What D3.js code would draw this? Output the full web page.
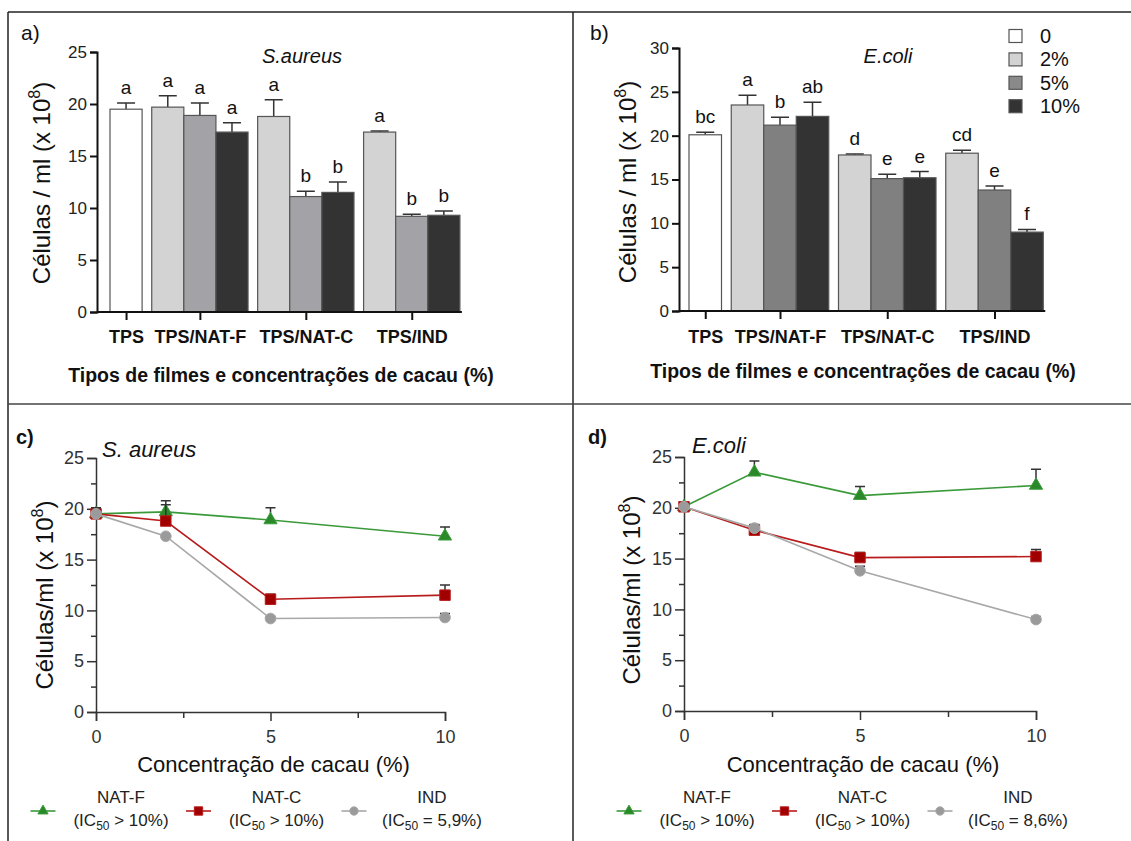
<!DOCTYPE html>
<html>
<head>
<meta charset="utf-8">
<script src="https://cdn.jsdelivr.net/npm/d3@7"></script>
<style>
  body { margin: 0; background: #fff; }
  text { font-family: "Liberation Sans", Arial, sans-serif; }
</style>
</head>
<body>
<script>
// bar order: TPS, then 2/5/10% for NAT-F, NAT-C, IND
var groupLabels = ["TPS", "TPS/NAT-F", "TPS/NAT-C", "TPS/IND"];
var barGroup = [0, 1, 1, 1, 2, 2, 2, 3, 3, 3];
var barConc = [0, 1, 2, 3, 1, 2, 3, 1, 2, 3];
var concLabels = ["0", "2%", "5%", "10%"];
var concValues = [0, 2, 5, 10];

var aureusMeans = [19.5, 19.7, 18.9, 17.3, 18.8, 11.1, 11.5, 17.3, 9.2, 9.3];
var aureusErrs = [0.6, 1.1, 1.2, 0.9, 1.6, 0.5, 1.0, 0.1, 0.2, 0.4];
var aureusLetters = ["a", "a", "a", "a", "a", "b", "b", "a", "b", "b"];

var ecoliMeans = [20.1, 23.5, 21.2, 22.2, 17.8, 15.1, 15.2, 18.0, 13.8, 9.0];
var ecoliErrs = [0.3, 1.1, 0.9, 1.6, 0.1, 0.5, 0.7, 0.35, 0.45, 0.3];
var ecoliLetters = ["bc", "a", "b", "ab", "d", "e", "e", "cd", "e", "f"];

var lineNames = ["NAT-F", "NAT-C", "IND"];
var aureusIC = ["> 10%)", "> 10%)", "= 5,9%)"];
var ecoliIC = ["> 10%)", "> 10%)", "= 8,6%)"];

var svg = d3.select("body").append("svg")
    .attr("width", 1131)
    .attr("height", 841);

// panel frame
var frame = svg.append("g").attr("stroke", "#222").attr("stroke-width", 1.5);
frame.append("line").attr("x1", 8).attr("y1", 12).attr("x2", 1131).attr("y2", 12);
frame.append("line").attr("x1", 8).attr("y1", 12).attr("x2", 8).attr("y2", 841);
frame.append("line").attr("x1", 573).attr("y1", 12).attr("x2", 573).attr("y2", 841);
frame.append("line").attr("x1", 8).attr("y1", 404).attr("x2", 1131).attr("y2", 404).attr("stroke", "#444");

function yLabel(g, x, y, text) {
    var t = g.append("text")
        .attr("transform", "translate(" + x + "," + y + ") rotate(-90)")
        .attr("text-anchor", "middle")
        .attr("font-size", 24)
        .attr("fill", "#111");
    t.append("tspan").text(text);
    t.append("tspan").attr("font-size", 16).attr("dy", -10).text("8");
    t.append("tspan").attr("dy", 10).text(")");
}

function barPanel(o) {
    var g = svg.append("g");
    var y = d3.scaleLinear().domain([0, o.yMax]).range([o.y0, o.y1]);
    var x = d3.scaleLinear().domain([0, 1]).range([o.barX0, o.barX0 + o.barW]);
    var gap = 0.3;
    var slotLeft = function (i) { return x(i + barGroup[i] * gap); };
    var bw = x(1) - x(0);

    var bars = d3.range(barGroup.length).map(function (i) {
        return { i: i, mean: o.means[i], err: o.errs[i], letter: o.letters[i], c: barConc[i] };
    });

    // error bars (up only)
    g.selectAll(".err").data(bars).enter().append("path")
        .attr("d", function (d) {
            var cx = slotLeft(d.i) + bw / 2;
            return "M" + cx + "," + y(d.mean) + "V" + y(d.mean + d.err) +
                "M" + (cx - 9) + "," + y(d.mean + d.err) + "H" + (cx + 9);
        })
        .attr("stroke", "#333").attr("stroke-width", 1.5).attr("fill", "none");

    g.selectAll(".bar").data(bars).enter().append("rect")
        .attr("x", function (d) { return slotLeft(d.i); })
        .attr("y", function (d) { return y(d.mean); })
        .attr("width", bw)
        .attr("height", function (d) { return y(0) - y(d.mean); })
        .attr("fill", function (d) { return o.colors[d.c]; })
        .attr("stroke", "#555").attr("stroke-width", 1.2);

    g.selectAll(".lt").data(bars).enter().append("text")
        .attr("x", function (d) { return slotLeft(d.i) + bw / 2; })
        .attr("y", function (d) { return y(d.mean + d.err) - 9; })
        .attr("text-anchor", "middle")
        .attr("font-size", 19)
        .attr("fill", "#111")
        .text(function (d) { return d.letter; });

    // axes
    var ya = g.append("g")
        .attr("transform", "translate(" + o.axisX + ",0)")
        .call(d3.axisLeft(y).tickValues(d3.range(0, o.yMax + 1, 5)).tickSize(7).tickPadding(3));
    ya.select(".domain").attr("stroke", "#111").attr("stroke-width", 2);
    ya.selectAll(".tick line").attr("stroke", "#111").attr("stroke-width", 2);
    ya.selectAll(".tick text").attr("font-size", 17).attr("fill", "#222").attr("font-family", null);

    var centers = groupLabels.map(function (lab, gi) {
        var idx = d3.range(barGroup.length).filter(function (i) { return barGroup[i] === gi; });
        return (slotLeft(idx[0]) + slotLeft(idx[idx.length - 1]) + bw) / 2;
    });
    var xg = d3.scaleOrdinal().domain(groupLabels).range(centers);
    var xa = g.append("g")
        .attr("transform", "translate(0," + y(0) + ")")
        .call(d3.axisBottom(xg).tickSize(8).tickPadding(o.catPad));
    xa.select(".domain").remove();
    xa.selectAll(".tick line").attr("stroke", "#111").attr("stroke-width", 2);
    xa.selectAll(".tick text").attr("font-size", 18).attr("font-weight", "bold")
        .attr("fill", "#111").attr("font-family", null);
    g.append("line")
        .attr("x1", o.axisX).attr("x2", slotLeft(barGroup.length - 1) + bw + 2)
        .attr("y1", y(0)).attr("y2", y(0))
        .attr("stroke", "#111").attr("stroke-width", 2);

    yLabel(g, o.labelX, o.labelY, "Células / ml (x 10");

    g.append("text").attr("x", o.titleX).attr("y", 63)
        .attr("text-anchor", "middle").attr("font-size", 20).attr("font-style", "italic")
        .attr("fill", "#111").text(o.title);
    g.append("text").attr("x", o.tagX).attr("y", 40)
        .attr("font-size", 21).attr("fill", "#111").text(o.tag);
    g.append("text").attr("x", o.xTitleX).attr("y", o.xTitleY)
        .attr("text-anchor", "middle").attr("font-size", 19.5).attr("font-weight", "bold")
        .attr("fill", "#111").text("Tipos de filmes e concentrações de cacau (%)");
    return g;
}

barPanel({
    means: aureusMeans, errs: aureusErrs, letters: aureusLetters,
    colors: ["#ffffff", "#d3d3d3", "#a3a3a7", "#333333"],
    yMax: 25, y0: 312, y1: 52, axisX: 97, barX0: 110, barW: 32.1, catPad: 10,
    labelX: 50, labelY: 183, title: "S.aureus", titleX: 302, tag: "a)", tagX: 21,
    xTitleX: 281, xTitleY: 382
});

var gb = barPanel({
    means: ecoliMeans, errs: ecoliErrs, letters: ecoliLetters,
    colors: ["#ffffff", "#d3d3d3", "#808080", "#333333"],
    yMax: 30, y0: 311, y1: 48, axisX: 679, barX0: 689, barW: 32.5, catPad: 11,
    labelX: 636, labelY: 182, title: "E.coli", titleX: 888, tag: "b)", tagX: 590,
    xTitleX: 863, xTitleY: 378
});

// legend in panel b
var lg = gb.selectAll(".leg").data(concLabels).enter().append("g")
    .attr("transform", function (d, i) { return "translate(1009," + (36 + i * 23.4) + ")"; });
lg.append("rect").attr("x", 0).attr("y", -6.5).attr("width", 13).attr("height", 13)
    .attr("fill", function (d, i) { return ["#ffffff", "#d3d3d3", "#8a8a8a", "#333333"][i]; })
    .attr("stroke", "#555").attr("stroke-width", 1.2);
lg.append("text").attr("x", 31).attr("y", 7).attr("font-size", 20).attr("fill", "#111")
    .text(function (d) { return d; });

// line panels
var lineColors = ["#3a9a3a", "#b81c1c", "#a8a8a8"];
var markColors = ["#2a8a2a", "#a00000", "#9a9a9a"];

function linePanel(o) {
    var g = svg.append("g");
    var x = d3.scaleLinear().domain([0, 10]).range([o.x0, o.x1]);
    var y = d3.scaleLinear().domain([0, 25]).range([o.y0, o.y1]);

    var series = [1, 2, 3].map(function (gi) {
        var idx = [0].concat(d3.range(barGroup.length).filter(function (i) { return barGroup[i] === gi; }));
        return idx.map(function (i) {
            return { x: concValues[barConc[i]], v: o.means[i], e: o.errs[i] };
        });
    });

    g.append("g").attr("transform", "translate(0," + o.y0 + ")")
        .call(d3.axisBottom(x).tickValues([0, 5, 10]).tickSize(9).tickPadding(9));
    g.append("g").attr("transform", "translate(0," + o.y0 + ")")
        .call(d3.axisBottom(x).tickValues([2.5, 7.5]).tickSize(6).tickFormat(""))
        .select(".domain").remove();
    g.append("g").attr("transform", "translate(" + o.x0 + ",0)")
        .call(d3.axisLeft(y).tickValues(d3.range(0, 26, 5)).tickSize(9).tickPadding(3));
    g.append("g").attr("transform", "translate(" + o.x0 + ",0)")
        .call(d3.axisLeft(y).tickValues(d3.range(2.5, 25, 5)).tickSize(5).tickFormat(""))
        .select(".domain").remove();
    g.selectAll(".domain, .tick line").attr("stroke", "#333").attr("stroke-width", 1.5);
    g.selectAll(".tick text").attr("font-size", 18).attr("fill", "#333").attr("font-family", null);

    var line = d3.line().x(function (d) { return x(d.x); }).y(function (d) { return y(d.v); });

    series.forEach(function (s, si) {
        var sg = g.append("g");
        sg.selectAll(".eb").data(s).enter().append("path")
            .attr("d", function (d) {
                return "M" + x(d.x) + "," + y(d.v) + "V" + y(d.v + d.e) +
                    "M" + (x(d.x) - 5) + "," + y(d.v + d.e) + "H" + (x(d.x) + 5);
            })
            .attr("stroke", "#333").attr("stroke-width", 1.5).attr("fill", "none");
        sg.append("path").datum(s).attr("d", line)
            .attr("fill", "none").attr("stroke", lineColors[si]).attr("stroke-width", 1.6);
        var sym = [d3.symbolTriangle, d3.symbolSquare, d3.symbolCircle][si];
        var size = [75, 110, 90][si];
        sg.selectAll(".pt").data(s).enter().append("path")
            .attr("transform", function (d) { return "translate(" + x(d.x) + "," + y(d.v) + ")"; })
            .attr("d", d3.symbol().type(sym).size(size))
            .attr("fill", markColors[si]).attr("stroke", lineColors[si]).attr("stroke-width", 1);
    });

    // y label, two parts
    var t = g.append("text")
        .attr("transform", "translate(" + o.labelX + "," + o.labelY + ") rotate(-90)")
        .attr("text-anchor", "middle").attr("font-size", 24).attr("fill", "#111");
    t.append("tspan").text("Células/ml (x 10");
    t.append("tspan").attr("font-size", 16).attr("dy", -10).text("8");
    t.append("tspan").attr("dy", 10).text(")");

    g.append("text").attr("x", (o.x0 + o.x1) / 2 + 3).attr("y", 772)
        .attr("text-anchor", "middle").attr("font-size", 22).attr("fill", "#111")
        .text("Concentração de cacau (%)");
    g.append("text").attr("x", o.titleX).attr("y", o.titleY)
        .attr("font-size", 22).attr("font-style", "italic").attr("fill", "#111").text(o.title);
    g.append("text").attr("x", o.tagX).attr("y", 444)
        .attr("font-size", 20).attr("font-weight", "bold").attr("fill", "#111").text(o.tag);

    // legend
    lineNames.forEach(function (name, si) {
        var lx = o.legX + si * 155.5;
        var lgi = g.append("g");
        lgi.append("line").attr("x1", lx - 12.5).attr("x2", lx + 12.5).attr("y1", 811).attr("y2", 811)
            .attr("stroke", lineColors[si]).attr("stroke-width", 1.6);
        var sym = [d3.symbolTriangle, d3.symbolSquare, d3.symbolCircle][si];
        lgi.append("path").attr("transform", "translate(" + lx + ",811)")
            .attr("d", d3.symbol().type(sym).size([45, 70, 55][si]))
            .attr("fill", markColors[si]).attr("stroke", lineColors[si]);
        lgi.append("text").attr("x", lx + 78).attr("y", 803).attr("text-anchor", "middle")
            .attr("font-size", 17).attr("fill", "#222").text(name);
        var ic = lgi.append("text").attr("x", lx + 78).attr("y", 826).attr("text-anchor", "middle")
            .attr("font-size", 17).attr("fill", "#222");
        ic.append("tspan").text("(IC");
        ic.append("tspan").attr("font-size", 12).attr("dy", 4).text("50");
        ic.append("tspan").attr("dy", -4).text(" " + o.ic[si]);
    });
}

linePanel({
    means: aureusMeans, errs: aureusErrs, ic: aureusIC,
    x0: 96, x1: 445, y0: 712, y1: 458,
    labelX: 53, labelY: 595, title: "S. aureus", titleX: 102, titleY: 457, tag: "c)", tagX: 16, legX: 43
});
linePanel({
    means: ecoliMeans, errs: ecoliErrs, ic: ecoliIC,
    x0: 684, x1: 1036, y0: 711, y1: 457,
    labelX: 640, labelY: 590, title: "E.coli", titleX: 692, titleY: 453, tag: "d)", tagX: 588, legX: 629
});
</script>
</body>
</html>
